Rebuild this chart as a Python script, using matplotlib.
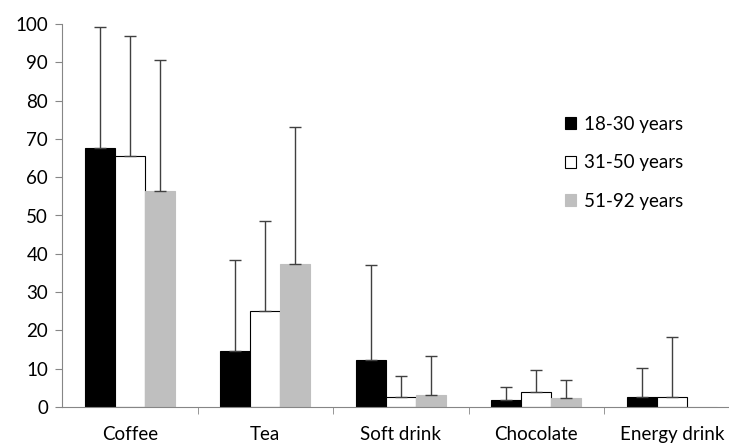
import numpy as np
import matplotlib.pyplot as plt
from matplotlib.patches import Patch

#Data
categories = ['Coffee', 'Tea', 'Soft drink', 'Chocolate', 'Energy drink']
groups = ['18-30 years', '31-50 years', '51-92 years']
mean_1830 = [67.7, 14.7, 12.3, 1.7, 2.6]
mean_3150 = [65.5, 25.1, 2.6, 3.8, 2.6]
mean_5192 = [56.3, 37.3, 3.1, 2.3, 0.0]
top_1830 = [99.3, 38.3, 37.0, 5.2, 10.3]
top_3150 = [96.9, 48.5, 8.1, 9.7, 18.4]
top_5192 = [90.6, 73.2, 13.2, 7.0, 0.0]

plt.rcParams['font.family'] = ['Lato', 'DejaVu Sans']

means = [mean_1830, mean_3150, mean_5192]
tops = [top_1830, top_3150, top_5192]
faces = ['black', 'white', '#bfbfbf']
edges = ['black', 'black', '#bfbfbf']

fig = plt.figure(figsize=(7.29, 4.44), dpi=100)
ax = fig.add_axes([62/729, 37/444, 677.5/729, 383/444])

x = np.arange(len(categories))
w = 0.222
for i in range(3):
    m = np.array(means[i])
    err = np.array(tops[i]) - m
    show = m > 0
    ax.bar(x + (i-1)*w, m, w, color=faces[i], edgecolor=edges[i], linewidth=0.8, zorder=2)
    ax.errorbar((x + (i-1)*w)[show], m[show], yerr=[np.zeros(show.sum()), err[show]],
                fmt='none', ecolor='#404040', elinewidth=1, capsize=4, capthick=1, zorder=3)

ax.set_xlim(-0.5, len(categories)-0.5)
ax.set_ylim(0, 100)
ax.set_yticks(np.arange(0, 101, 10))
ax.set_xticks(x)
ax.set_xticklabels(categories)
ax.set_xticks(np.arange(0.5, len(categories)-0.5, 1), minor=True)
ax.tick_params(axis='x', which='major', length=0, pad=14, labelsize=13.5)
ax.tick_params(axis='x', which='minor', length=5, color='#868686', direction='out')
ax.tick_params(axis='y', length=5, color='#868686', labelsize=13.5, pad=5)

for s in ['top', 'right']:
    ax.spines[s].set_visible(False)
for s in ['left', 'bottom']:
    ax.spines[s].set_color('#868686')

handles = [Patch(facecolor=faces[i], edgecolor=('black' if i < 2 else '#bfbfbf'), linewidth=0.8) for i in range(3)]
ax.legend(handles, groups, loc='upper left', bbox_to_anchor=(548/729, 1-99/444),
          bbox_transform=fig.transFigure, frameon=False, handlelength=0.6, handleheight=0.6,
          handletextpad=0.4, labelspacing=1.15, fontsize=13.5)

plt.savefig('out.png', dpi=100)
